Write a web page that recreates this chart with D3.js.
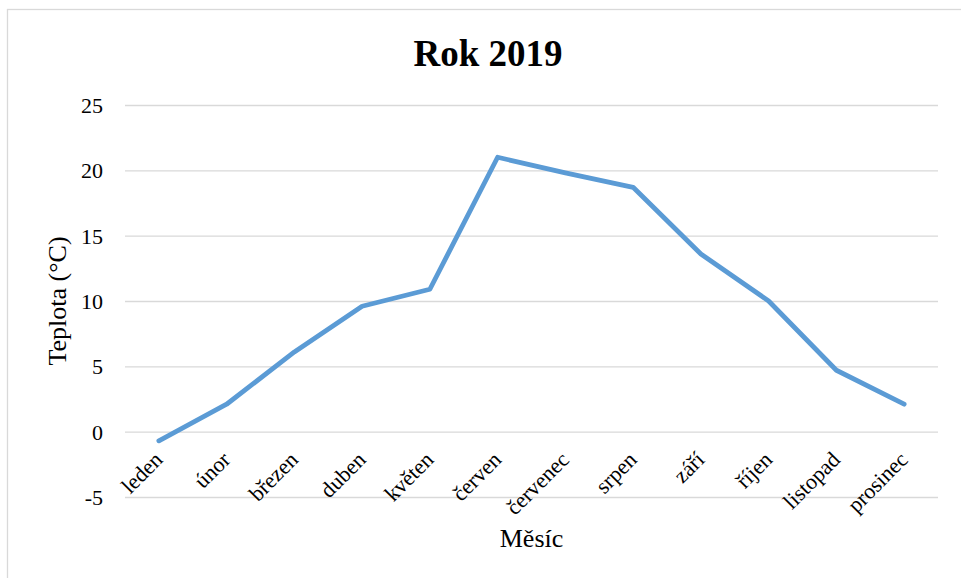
<!DOCTYPE html>
<html>
<head>
<meta charset="utf-8">
<script src="https://cdn.jsdelivr.net/npm/d3@7"></script>
<style>
  html, body { margin: 0; padding: 0; background: #ffffff; }
  svg { display: block; font-family: "Liberation Serif", "Times New Roman", serif; }
</style>
</head>
<body>
<svg id="chart" width="961" height="578"></svg>
<script>
// Monthly average temperatures, 2019
const months = ["leden", "únor", "březen", "duben", "květen", "červen",
                "červenec", "srpen", "září", "říjen", "listopad", "prosinec"];
const temperatures = [-0.7, 2.1, 6.1, 9.6, 10.9, 21.0, 19.8, 18.7, 13.6, 10.0, 4.7, 2.1];
const yTicks = [-5, 0, 5, 10, 15, 20, 25];

const titleText = "Rok 2019";
const xTitle = "Měsíc";
const yTitle = "Teplota (°C)";

const svg = d3.select("#chart");
const plot = { left: 125, right: 938, top: 105, bottom: 497 };

// Chart frame
svg.append("rect")
  .attr("x", 7.5).attr("y", 9.5)
  .attr("width", 1000).attr("height", 1000)
  .attr("fill", "#ffffff")
  .attr("stroke", "#d9d9d9").attr("stroke-width", 1.3);

const x = d3.scaleBand().domain(months).range([plot.left, plot.right]).padding(0);
const y = d3.scaleLinear().domain([-5, 25]).range([plot.bottom, plot.top]);

// Horizontal gridlines with value labels (plain hyphen for negatives)
const yAxis = d3.axisLeft(y)
  .tickValues(yTicks)
  .tickFormat(d => String(d))
  .tickSize(-(plot.right - plot.left))
  .tickPadding(22);
const gy = svg.append("g").attr("transform", `translate(${plot.left},0)`).call(yAxis);
gy.select(".domain").remove();
gy.selectAll(".tick line").attr("stroke", "#d9d9d9").attr("stroke-width", 1.3);
gy.selectAll(".tick text")
  .attr("font-family", "Liberation Serif, serif")
  .attr("font-size", 22)
  .attr("fill", "#000")
  .attr("dy", "0.34em");

// Category labels, rotated
const xAxis = d3.axisBottom(x).tickSize(0).tickPadding(0);
const gx = svg.append("g").attr("transform", `translate(0,${plot.bottom})`).call(xAxis);
gx.select(".domain").remove();
gx.selectAll(".tick text")
  .attr("font-family", "Liberation Serif, serif")
  .attr("font-size", 22)
  .attr("fill", "#000")
  .attr("text-anchor", "end")
  .attr("dy", null)
  .attr("y", 0)
  .attr("transform", "translate(5,-36) rotate(-45)");

// Temperature line
const line = d3.line()
  .x((d, i) => x(months[i]) + x.bandwidth() / 2)
  .y(d => y(d));

svg.append("path")
  .datum(temperatures)
  .attr("d", line)
  .attr("fill", "none")
  .attr("stroke", "#5b9bd5")
  .attr("stroke-width", 4.8)
  .attr("stroke-linejoin", "round")
  .attr("stroke-linecap", "round");

// Titles
svg.append("text")
  .attr("x", 488).attr("y", 66)
  .attr("text-anchor", "middle")
  .attr("font-size", 37).attr("font-weight", "bold")
  .attr("fill", "#000")
  .text(titleText);

svg.append("text")
  .attr("x", (plot.left + plot.right) / 2).attr("y", 547)
  .attr("text-anchor", "middle")
  .attr("font-size", 26)
  .attr("fill", "#000")
  .text(xTitle);

svg.append("text")
  .attr("transform", `translate(66,${(plot.top + plot.bottom) / 2}) rotate(-90)`)
  .attr("text-anchor", "middle")
  .attr("font-size", 26)
  .attr("fill", "#000")
  .text(yTitle);
</script>
</body>
</html>
